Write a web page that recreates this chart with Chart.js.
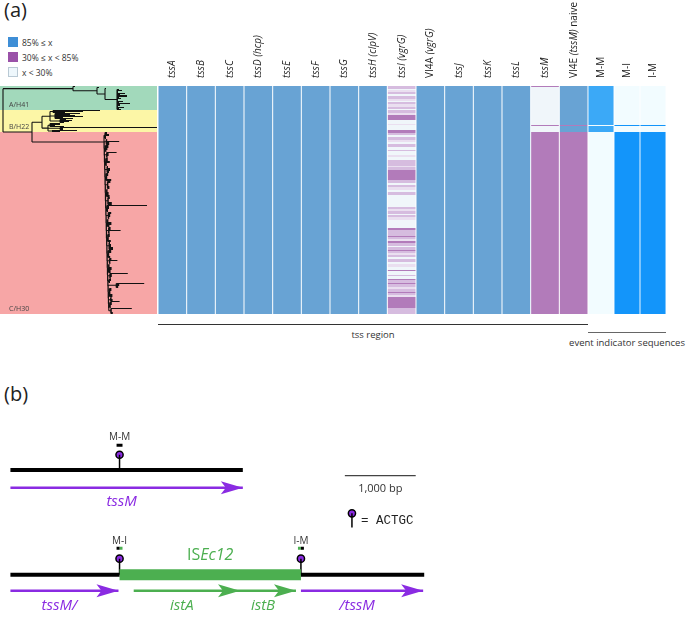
<!DOCTYPE html>
<html>
<head>
<meta charset="utf-8">
<script src="https://cdn.jsdelivr.net/npm/chart.js@4.4.0/dist/chart.umd.min.js"></script>
<style>
  html, body { margin: 0; padding: 0; background: #fff; }
  body { width: 692px; height: 617px; position: relative; overflow: hidden; font-family: 'Open Sans', sans-serif; color: #333; }
  canvas { position: absolute; }
  .abs { position: absolute; white-space: nowrap; }
  .panel { font-size: 20px; color: #222; }
  .legend-item { position: absolute; left: 8px; font-size: 8.5px; line-height: 11px; color: #333; }
  .sw { display: inline-block; width: 10px; height: 10px; vertical-align: top; margin-right: 4px; box-sizing: border-box; }
  .rule { position: absolute; height: 0; }
  .region { position: absolute; font-size: 9.5px; color: #333; text-align: center; }
</style>
</head>
<body>
<div class="abs panel" style="left:4px;top:-4px">(a)</div>
<div class="abs panel" style="left:4px;top:380px">(b)</div>

<div class="legend-item" style="top:37px"><span class="sw" style="background:#3e8ed6"></span>85% ≤ x</div>
<div class="legend-item" style="top:52px"><span class="sw" style="background:#9a52a8"></span>30% ≤ x &lt; 85%</div>
<div class="legend-item" style="top:67px"><span class="sw" style="background:#eef7fc;border:1px solid #b9c9d4"></span>x &lt; 30%</div>

<canvas id="tree" width="157" height="228" style="left:0;top:86px"></canvas>
<canvas id="heatTss" width="430" height="314" style="left:158px;top:0"></canvas>
<canvas id="heatEvent" width="78" height="314" style="left:588px;top:0"></canvas>

<div class="rule" style="left:158px;top:324px;width:430px;border-top:1px solid #333"></div>
<div class="region" style="left:158px;top:328px;width:430px">tss region</div>
<div class="rule" style="left:588px;top:332px;width:78px;border-top:1px solid #666"></div>
<div class="region" style="left:561px;top:336px;width:132px">event indicator sequences</div>

<canvas id="schema" width="692" height="197" style="left:0;top:420px"></canvas>

<script>
// ---------- panel (a): heatmap ----------
const clades = ['A/H41', 'B/H22', 'C/H30'];
const cladeRows = [24, 22, 182];
const cladeColors = ['#a2d9bb', '#fcf6a6', '#f7a6a6'];

const tssGenes = ['tssA', 'tssB', 'tssC', 'tssD (hcp)', 'tssE', 'tssF', 'tssG', 'tssH (clpV)',
  'tssI (vgrG)', 'VI4A (vgrG)', 'tssJ', 'tssK', 'tssL', 'tssM', 'VI4E (tssM) naive'];
const eventSeqs = ['M-M', 'M-I', 'I-M'];

// runs of rows, top to bottom: [class, number of strains]
const allHigh = [['H', 228]];
const tssIRuns = [
  ['m', 3], ['L', 1], ['l', 2], ['m', 2], ['L', 2], ['m', 3], ['l', 2], ['L', 1], ['m', 2], ['l', 3], ['m', 2], ['L', 1], ['m', 3], ['l', 2],
  ['M', 5],
  ['L', 4], ['l', 1], ['L', 5],
  ['M', 3],
  ['m', 2], ['L', 2], ['m', 3], ['l', 2], ['L', 2], ['m', 3],
  ['L', 3], ['m', 1], ['L', 4], ['l', 2], ['L', 3], ['m', 2],
  ['m', 4], ['l', 1], ['m', 3],
  ['M', 10],
  ['m', 3], ['L', 2], ['m', 2], ['l', 3], ['L', 2], ['m', 3], ['L', 2],
  ['L', 10],
  ['m', 2], ['l', 2], ['m', 3], ['L', 1], ['m', 2], ['l', 3],
  ['L', 8],
  ['M', 2], ['m', 3],
  ['m', 3], ['M', 1], ['m', 2], ['l', 2], ['M', 2], ['m', 3], ['L', 1], ['m', 3], ['M', 1], ['m', 2],
  ['l', 2], ['m', 2], ['L', 2], ['m', 3], ['L', 2], ['l', 3],
  ['L', 3], ['M', 1], ['L', 4], ['m', 1], ['L', 3], ['M', 1],
  ['m', 3], ['M', 1], ['m', 3], ['l', 2], ['m', 3], ['M', 1], ['m', 2],
  ['l', 2], ['M', 11],
  ['m', 6]
];
const tssMRuns = [['M', 1], ['L', 38], ['M', 1], ['L', 6], ['M', 182]];
const vi4eRuns = [['H', 39], ['M', 1], ['H', 6], ['M', 182]];
const tssRuns = [allHigh, allHigh, allHigh, allHigh, allHigh, allHigh, allHigh, allHigh,
  tssIRuns, allHigh, allHigh, allHigh, allHigh, tssMRuns, vi4eRuns];

const mmRuns = [['P', 39], ['A', 1], ['P', 6], ['A', 182]];
const miRuns = [['A', 39], ['P', 1], ['A', 6], ['P', 182]];
const imRuns = [['A', 39], ['P', 1], ['A', 6], ['P', 182]];
const eventRuns = [mmRuns, miRuns, imRuns];

// ---------- panel (a): tree, [branch length, strains at tip | children] ----------
const cladeA = [70, [
  [2, 1],
  [24, [
    [2, 1],
    [8, [
      [1, 1],
      [12, [[2, 1], [5, 1], [1, 2], [8, 1], [3, 1], [10, 2], [2, 1], [4, 1], [1, 2], [6, 1],
            [2, 1], [13, 1], [3, 2], [1, 1], [7, 1], [2, 1], [4, 1]]]
    ]]
  ]]
]];
const cladeB = [10, [
  [8, [
    [3, [[47, 1], [30, 1], [12, 1]]],
    [5, [[25, 1], [15, 1], [20, 1], [28, 1], [8, 1], [18, 1]]],
    [10, [[6, 1], [12, 1], [9, 1], [4, 1]]]
  ]],
  [6, [
    [2, [[10, 2], [5, 1], [14, 1]]],
    [12, [[97, 1], [3, 2]]],
    [4, [[25, 1], [8, 1]]]
  ]]
]];
const cladeCSubclades = [
  [1, [[2, 2], [4, 2], [1, 3]]],
  [2, [[1, 2], [13, 1], [3, 3]]],
  [1, [[3, 3], [2, 2], [1, 2]]],
  [2, [[10, 1], [2, 3], [1, 2]]],
  [1, [[2, 3], [4, 2], [1, 3]]],
  [2, [[1, 2], [3, 3], [2, 2]]],
  [1, [[2, 3], [1, 3], [5, 2]]],
  [2, [[3, 2], [1, 3], [2, 3]]],
  [1, [[1, 3], [2, 3], [3, 2]]],
  [2, [[2, 2], [1, 3], [4, 3]]],
  [1, [[40, 1], [2, 3], [1, 3]]],
  [2, [[3, 2], [2, 3], [1, 2]]],
  [1, [[1, 3], [4, 3], [2, 2]]],
  [2, [[2, 3], [12, 1], [1, 3]]],
  [1, [[2, 3], [1, 3], [3, 2]]],
  [2, [[1, 2], [2, 3], [4, 3]]],
  [1, [[3, 3], [1, 3], [2, 2]]],
  [2, [[2, 2], [8, 1], [1, 3]]],
  [1, [[1, 3], [3, 3], [2, 3]]],
  [2, [[18, 1], [2, 3], [1, 2]]],
  [1, [[2, 2], [1, 2]]],
  [8, [[28, 1], [3, 2], [2, 2]]],
  [1, [[2, 3], [1, 3], [3, 3]]],
  [2, [[1, 2], [2, 2], [9, 1]]],
  [1, [[2, 3], [1, 3]]],
  [2, [[21, 1], [1, 3], [2, 2]]]
];

// ---------- panel (b): schematic, in bp ----------
const tssMLengthBp = 3280;
const insertionSiteBp = 1540;
const isEc12LengthBp = 2560;
const istABp = [1740, 3240];
const istBBp = [3240, 4030];
const scaleBarBp = 1000;

// ---------- layout ----------
const TOTAL_ROWS = 228;
const HEADER_H = 86;
const LADDER_STEP = 0.2;
const PX_PER_BP = 0.072;
const PURPLE = '#8a2be2';
const GREEN = '#4caf50';

const tssColors = { H: '#68a3d4', M: '#b27bba', m: '#d6bcdf', l: '#eadff0', L: '#f0f6fa' };
const eventPresent = ['#3ba9f7', '#1395fa', '#1395fa'];
const eventAbsent = '#f2fcff';

const noInteraction = { legend: { display: false }, tooltip: { enabled: false } };

function stackFromRuns(runsList, colorFor) {
  const depth = Math.max(...runsList.map(r => r.length));
  const datasets = [];
  for (let k = 0; k < depth; k++) {
    datasets.push({
      data: runsList.map(r => (r[k] ? r[k][1] : 0)),
      backgroundColor: runsList.map((r, i) => (r[k] ? colorFor(r[k][0], i) : 'transparent')),
      borderWidth: 0,
      barPercentage: 0.965,
      categoryPercentage: 1,
      stack: 'rows'
    });
  }
  return datasets;
}

// rotated column names, gene names in italics
const headerLabels = {
  id: 'headerLabels',
  afterDraw(chart) {
    const xs = chart.scales.x;
    const ctx = chart.ctx;
    ctx.save();
    ctx.fillStyle = '#222';
    ctx.textBaseline = 'middle';
    chart.data.labels.forEach((label, i) => {
      ctx.save();
      ctx.translate(xs.getPixelForValue(i), xs.bottom - 8);
      ctx.rotate(-Math.PI / 2);
      let cx = 0;
      label.split(' ').forEach((word, w) => {
        const italic = /^\(?(tss|hcp|clpV|vgrG)/.test(word);
        ctx.font = (italic ? 'italic ' : '') + '10px "Open Sans"';
        const txt = (w ? ' ' : '') + word;
        ctx.fillText(txt, cx, 0);
        cx += ctx.measureText(txt).width;
      });
      ctx.restore();
    });
    ctx.restore();
  }
};

function makeHeatmap(id, labels, runsList, colorFor) {
  return new Chart(document.getElementById(id), {
    type: 'bar',
    data: { labels, datasets: stackFromRuns(runsList, colorFor) },
    options: {
      responsive: false,
      animation: false,
      events: [],
      layout: { padding: 0 },
      plugins: noInteraction,
      scales: {
        x: {
          position: 'top',
          stacked: true,
          grid: { display: false },
          border: { display: false },
          ticks: { display: false },
          afterFit: s => { s.height = HEADER_H; }
        },
        y: { stacked: true, reverse: true, min: 0, max: TOTAL_ROWS, display: false }
      }
    },
    plugins: [headerLabels]
  });
}

makeHeatmap('heatTss', tssGenes, tssRuns, code => tssColors[code]);
makeHeatmap('heatEvent', eventSeqs, eventRuns, (code, i) => (code === 'P' ? eventPresent[i] : eventAbsent));

// ---------- tree ----------
function ladder(list) {
  // later subclades hang a little deeper, giving the comb its thick stem
  if (list.length <= 2) return list;
  return [list[0], [LADDER_STEP, ladder(list.slice(1))]];
}
const treeRoot = [0, [cladeA, [29, [cladeB, [72, ladder(cladeCSubclades)]]]]];

function layoutTree(node, x0, row, segs) {
  const [len, content] = node;
  const x = x0 + len;
  if (typeof content === 'number') {
    // a tip holding several strains: one leaf line per strain
    for (let k = 0; k < content; k++) segs.push([x0, row + k + 0.5, x, row + k + 0.5]);
    if (content > 1) segs.push([x0, row + 0.5, x0, row + content - 0.5]);
    return { y: row + content / 2, next: row + content };
  }
  const ys = [];
  let next = row;
  content.forEach(child => {
    const r = layoutTree(child, x, next, segs);
    ys.push(r.y);
    next = r.next;
  });
  const y = (ys[0] + ys[ys.length - 1]) / 2;
  segs.push([x, ys[0], x, ys[ys.length - 1]]);
  if (len > 0) segs.push([x0, y, x, y]);
  return { y, next };
}

function segmentsToPoints(segs) {
  const pts = [];
  segs.forEach(([x0, y0, x1, y1], i) => {
    if (i) pts.push({ x: null, y: null });
    pts.push({ x: x0, y: y0 }, { x: x1, y: y1 });
  });
  return pts;
}

const treeSegs = [];
layoutTree(treeRoot, 0, 0, treeSegs);

const cladeBoxes = {
  id: 'cladeBoxes',
  beforeDatasetsDraw(chart) {
    const { ctx, chartArea, scales } = chart;
    let start = 0;
    ctx.save();
    clades.forEach((name, i) => {
      const top = scales.y.getPixelForValue(start);
      const bottom = scales.y.getPixelForValue(start + cladeRows[i]);
      ctx.fillStyle = cladeColors[i];
      ctx.fillRect(chartArea.left, top, chartArea.right - chartArea.left, bottom - top);
      ctx.fillStyle = '#444';
      ctx.font = '7px "Open Sans"';
      ctx.textBaseline = 'alphabetic';
      ctx.fillText(name, 9, bottom - 3);
      start += cladeRows[i];
    });
    ctx.restore();
  }
};

new Chart(document.getElementById('tree'), {
  type: 'scatter',
  data: {
    datasets: [{
      data: segmentsToPoints(treeSegs),
      showLine: true,
      spanGaps: false,
      borderColor: '#111',
      borderWidth: 1.1,
      pointRadius: 0
    }]
  },
  options: {
    responsive: false,
    animation: false,
    events: [],
    layout: { padding: 0 },
    plugins: noInteraction,
    scales: {
      x: { type: 'linear', min: -3, max: 154, display: false },
      y: { type: 'linear', min: 0, max: TOTAL_ROWS, reverse: true, display: false }
    }
  },
  plugins: [cladeBoxes]
});

// ---------- panel (b) ----------
const T = {
  mmLabel: 12, mmDash: 21, mmPin: 31, wt: 47, wtGene: 66, wtGeneLabel: 81,
  scaleBar: 53, scaleLabel: 67, keyPin: 93, keyStemEnd: 108,
  insLabel: 122, insDash: 130, isLabel: 138, insPin: 141, ins: 158, insGene: 175, insGeneLabel: 191
};
const isEnd = insertionSiteBp + isEc12LengthBp;
const mutEnd = isEnd + (tssMLengthBp - insertionSiteBp);
const scaleBarStartBp = 4720;
const keyPinBp = 4820;
const dashHalf = 42;

const arrows = [
  { from: 0, to: tssMLengthBp, y: T.wtGene, ly: T.wtGeneLabel, color: PURPLE, label: 'tssM' },
  { from: 0, to: insertionSiteBp - 15, y: T.insGene, ly: T.insGeneLabel, color: PURPLE, label: 'tssM/' },
  { from: istABp[0], to: istABp[1], y: T.insGene, ly: T.insGeneLabel, color: GREEN, label: 'istA' },
  { from: istBBp[0], to: istBBp[1], y: T.insGene, ly: T.insGeneLabel, color: GREEN, label: 'istB' },
  { from: isEnd, to: mutEnd - 15, y: T.insGene, ly: T.insGeneLabel, color: PURPLE, label: '/tssM' }
];

const lineDs = (segs, color, width) => ({
  data: segmentsToPoints(segs), showLine: true, spanGaps: false,
  borderColor: color, borderWidth: width, borderCapStyle: 'butt', pointRadius: 0
});

const schemaDatasets = [
  lineDs([[0, T.wt, tssMLengthBp, T.wt], [0, T.ins, insertionSiteBp, T.ins], [isEnd, T.ins, mutEnd, T.ins]], '#000', 4),
  lineDs([[insertionSiteBp, T.ins, isEnd, T.ins]], GREEN, 11),
  lineDs([[insertionSiteBp, T.wt, insertionSiteBp, T.mmPin], [insertionSiteBp, T.ins, insertionSiteBp, T.insPin],
          [isEnd, T.ins, isEnd, T.insPin], [keyPinBp, T.keyStemEnd, keyPinBp, T.keyPin]], '#000', 1.5),
  lineDs([[insertionSiteBp - dashHalf, T.mmDash, insertionSiteBp + dashHalf, T.mmDash],
          [insertionSiteBp - dashHalf, T.insDash, insertionSiteBp, T.insDash],
          [isEnd, T.insDash, isEnd + dashHalf, T.insDash]], '#000', 3),
  lineDs([[insertionSiteBp, T.insDash, insertionSiteBp + dashHalf, T.insDash],
          [isEnd - dashHalf, T.insDash, isEnd, T.insDash]], GREEN, 3),
  lineDs([[scaleBarStartBp, T.scaleBar, scaleBarStartBp + scaleBarBp, T.scaleBar]], '#444', 1.3),
  lineDs(arrows.filter(a => a.color === PURPLE).map(a => [a.from, a.y, a.to, a.y]), PURPLE, 2.6),
  lineDs(arrows.filter(a => a.color === GREEN).map(a => [a.from, a.y, a.to, a.y]), GREEN, 2.6),
  {
    data: [{ x: insertionSiteBp, y: T.mmPin }, { x: insertionSiteBp, y: T.insPin }, { x: isEnd, y: T.insPin }, { x: keyPinBp, y: T.keyPin }],
    showLine: false, pointStyle: 'circle', pointRadius: 3.6,
    backgroundColor: PURPLE, borderColor: '#000', borderWidth: 1.5
  }
];

const schemaDecor = {
  id: 'schemaDecor',
  afterDatasetsDraw(chart) {
    const { ctx, scales } = chart;
    const px = v => scales.x.getPixelForValue(v);
    const py = v => scales.y.getPixelForValue(v);
    ctx.save();
    // arrowheads
    arrows.forEach(a => {
      const tip = px(a.to), y = py(a.y);
      ctx.fillStyle = a.color;
      ctx.beginPath();
      ctx.moveTo(tip, y);
      ctx.lineTo(tip - 22, y - 6.5);
      ctx.lineTo(tip - 17, y);
      ctx.lineTo(tip - 22, y + 6.5);
      ctx.closePath();
      ctx.fill();
    });
    ctx.textBaseline = 'middle';
    ctx.textAlign = 'center';
    // gene names
    ctx.font = 'italic 15px "Open Sans"';
    arrows.forEach(a => {
      ctx.fillStyle = a.color;
      ctx.fillText(a.label, (px(a.from) + px(a.to)) / 2 - 5, py(a.ly));
    });
    // event indicator names
    ctx.fillStyle = '#333';
    ctx.font = '10px "Open Sans"';
    ctx.fillText('M-M', px(insertionSiteBp), py(T.mmLabel));
    ctx.fillText('M-I', px(insertionSiteBp), py(T.insLabel));
    ctx.fillText('I-M', px(isEnd), py(T.insLabel));
    ctx.font = '11px "Open Sans"';
    ctx.fillText('1,000 bp', px(scaleBarStartBp + scaleBarBp / 2), py(T.scaleLabel));
    // ISEc12
    ctx.fillStyle = GREEN;
    const mid = (px(insertionSiteBp) + px(isEnd)) / 2;
    ctx.font = '16px "Open Sans"';
    const w1 = ctx.measureText('IS').width;
    ctx.font = 'italic 16px "Open Sans"';
    const w2 = ctx.measureText('Ec12').width;
    ctx.textAlign = 'left';
    ctx.font = '16px "Open Sans"';
    ctx.fillText('IS', mid - (w1 + w2) / 2, py(T.isLabel));
    ctx.font = 'italic 16px "Open Sans"';
    ctx.fillText('Ec12', mid - (w1 + w2) / 2 + w1, py(T.isLabel));
    // pin key
    ctx.fillStyle = '#222';
    ctx.font = '12.5px "Liberation Mono", "DejaVu Sans Mono", monospace';
    ctx.fillText('= ACTGC', px(keyPinBp) + 9, py((T.keyPin + T.keyStemEnd) / 2));
    ctx.restore();
  }
};

new Chart(document.getElementById('schema'), {
  type: 'scatter',
  data: { datasets: schemaDatasets },
  options: {
    responsive: false,
    animation: false,
    events: [],
    layout: { padding: 0 },
    plugins: noInteraction,
    scales: {
      x: { type: 'linear', min: -5 / PX_PER_BP, max: (692 - 5) / PX_PER_BP, display: false },
      y: { type: 'linear', min: 0, max: 197, reverse: true, display: false }
    }
  },
  plugins: [schemaDecor]
});
</script>
</body>
</html>
